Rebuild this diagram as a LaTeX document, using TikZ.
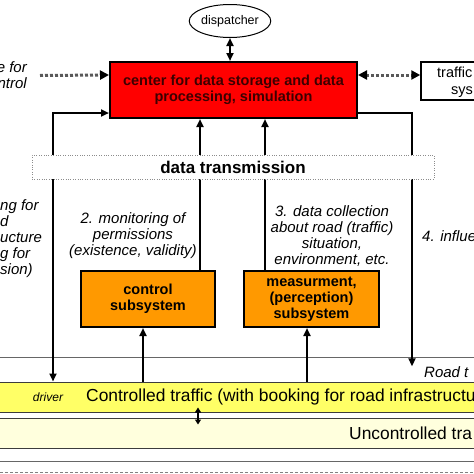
\documentclass[tikz,border=0pt]{standalone}
\usepackage{fontspec}
\setmainfont{Liberation Sans}
\usetikzlibrary{shapes.geometric,positioning,arrows.meta,calc}
\definecolor{boxred}{RGB}{255,0,0}
\definecolor{boxtext}{RGB}{60,0,0}
\definecolor{suborange}{RGB}{255,153,0}
\definecolor{ctrlyellow}{RGB}{255,255,102}
\definecolor{uncyellow}{RGB}{255,255,221}
\definecolor{bandline}{RGB}{60,60,60}

\begin{document}
\begin{tikzpicture}[x=1pt, y=-1pt,
  box/.style={rectangle, draw, line width=2pt, align=center, inner sep=0pt, font=\fontsize{14.5}{16}\selectfont\bfseries},
  sub/.style={box, fill=suborange},
  note/.style={align=center, inner sep=0pt, font=\fontsize{15}{16}\selectfont\itshape},
  plain/.style={inner sep=0pt, font=\fontsize{14.5}{16}\selectfont},
  band/.style={rectangle, draw=bandline, line width=1pt, minimum width=500pt, minimum height=30pt, inner sep=0pt},
  arr/.style={-{Triangle[length=8pt,width=7pt]}, line width=2pt},
  dbl/.style={{Triangle[length=8pt,width=7pt]}-{Triangle[length=8pt,width=7pt]}, line width=2pt},
  dotarr/.style={-{Triangle[length=9pt,width=9pt,color=black]}, line width=3pt, black!65, dash pattern=on 3pt off 2pt},
  dotdbl/.style={{Triangle[length=9pt,width=9pt,color=black]}-{Triangle[length=9pt,width=9pt,color=black]}, line width=3pt, black!65, dash pattern=on 3pt off 2pt},
  sep/.style={line width=1pt, black!60},
]
\useasboundingbox (0,0) rectangle (474,474);

% === Centre and its neighbours ===
\node[ellipse, draw, line width=1pt, minimum width=80pt, minimum height=33pt, inner sep=0pt, font=\fontsize{12.5}{14}\selectfont] (disp) at (230,21) {dispatcher};
\node[box, fill=boxred, text=boxtext, minimum width=247pt, minimum height=56pt] (center) at (233.5,90) {center for data storage and data\\processing, simulation};
\node[rectangle, draw, line width=1.5pt, minimum width=109pt, minimum height=38pt] (tcs) at (475.5,81) {};
\node[plain, anchor=base west] (tcs1) at (437,77) {traffic};
\node[plain, anchor=base west] (tcs2) at (451,94) {sys};
\node[note, align=right, anchor=east] (ext) at (27,75.5) {e for\\ntrol};
\coordinate (dotrow) at (0,75);

\draw[dbl] (disp.south) -- (disp.south |- center.north);
\draw[dotarr] ([xshift=13pt]ext.east) -- (center.west |- dotrow);
\draw[dotdbl] (center.east |- dotrow) -- (tcs.west |- dotrow);

% === Subsystems ===
\node[sub, minimum width=134pt, minimum height=56pt] (ctl) at (148,299) {control\\subsystem};
\node[sub, minimum width=135pt, minimum height=56pt] (meas) at (311.5,299) {measurment,\\(perception)\\subsystem};

\node[note] (lab2) at (133,236) {2. monitoring of\\permissions\\(existence, validity)};
\node[note] (lab3) at (332,236) {3. data collection\\about road (traffic)\\situation,\\environment, etc.};
\node[note, anchor=west] (lab4) at (422,236) {4. influe};
\node[note, align=left, anchor=west] (lab1) at (0,238.5) {ng for\\d\\ucture\\g for\\sion)};

% === Traffic layers ===
\draw[sep] (0,357) -- (474,357);
\node[note, anchor=west] (road) at (424,372) {Road t};
\node[band, fill=ctrlyellow] (ctrl) at (237,397) {};
\node[inner sep=0pt, font=\fontsize{12}{14}\selectfont\itshape] (drv) at (48,397) {driver};
\node[inner sep=0pt, anchor=west, font=\fontsize{17.4}{19}\selectfont] (ctrltxt) at (86,397) {Controlled traffic (with booking for road infrastructu};
\node[band, fill=uncyellow] (unc) at (237,433) {};
\node[inner sep=0pt, anchor=west, font=\fontsize{17.4}{19}\selectfont] (unctxt) at (349,433) {Uncontrolled tra};
\draw[sep] (0,461) -- (474,461);
\draw[line width=1.5pt, black!50, dash pattern=on 3pt off 2pt] (0,472.5) -- (474,472.5);

% === Connections ===
\coordinate (bk) at (53,0);
\coordinate (inf) at (412,0);
\coordinate (mon) at (200,0);
\coordinate (ctlin) at (143,0);
\coordinate (dc) at (265,0);
\coordinate (measin) at (307,0);
\coordinate (mix) at (198,0);

\draw[dbl] ([yshift=6pt]center.south west) -| (bk |- ctrl.north);
\draw[arr] ([yshift=6pt]center.south east) -| (inf |- road.north);
\draw[arr] (mon |- ctl.north) -- (mon |- center.south);
\draw[arr] (dc |- meas.north) -- (dc |- center.south);
\draw[arr] (ctlin |- ctrl.north) -- (ctlin |- ctl.south);
\draw[arr] (measin |- ctrl.north) -- (measin |- meas.south);
\draw[{Triangle[length=5pt,width=6pt]}-{Triangle[length=5pt,width=6pt]}, line width=1.5pt] ($(mix |- ctrl.south)+(0,-5)$) -- ($(mix |- unc.north)+(0,7)$);

% === Data transmission (over the lines) ===
\node[rectangle, draw=black!45, dotted, fill=white, minimum width=402pt, minimum height=24pt, inner sep=0pt, font=\fontsize{17}{19}\selectfont\bfseries] (dtx) at (233,167) {data transmission};

\end{tikzpicture}
\end{document}
